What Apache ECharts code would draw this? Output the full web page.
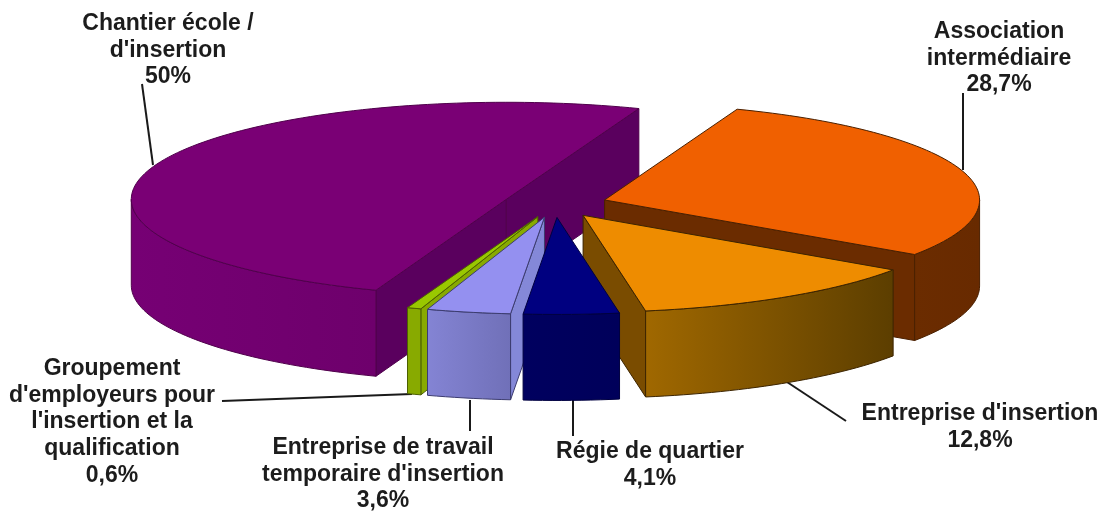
<!DOCTYPE html>
<html>
<head>
<meta charset="utf-8">
<style>
html, body { margin: 0; padding: 0; background: #fff; }
#main { width: 1104px; height: 511px; }
</style>
<script src="https://cdn.jsdelivr.net/npm/echarts@6/dist/echarts.min.js"></script>
</head>
<body>
<div id="main"></div>
<script>
// valeurs, dans le sens horaire
var categories = [
    "Association\nintermédiaire",
    "Entreprise d'insertion",
    "Régie de quartier",
    "Entreprise de travail\ntemporaire d'insertion",
    "Groupement\nd'employeurs pour\nl'insertion et la\nqualification",
    "Chantier école /\nd'insertion"
];
var shares = [28.7, 12.8, 4.1, 3.6, 0.6, 50];
var drawOrder = [5, 0, 1, 4, 3, 2]; // du fond vers l'avant

// couleurs : dessus, face coupée, flanc (dégradé)
var topColors = ['#f06000', '#ee8c00', '#000080', '#9490f0', '#99c800', '#7a0075'];
var faceColors = ['#6b2c00', '#7a4c00', '#00005f', '#8488d8', '#88aa00', '#5a005e'];
var wallLeft = ['#6b2c00', '#a06800', '#00005f', '#8484d4', '#88aa00', '#760074'];
var wallRight = ['#682a00', '#5c3e00', '#00005a', '#7070b8', '#88aa00', '#6e006c'];
var edgeColors = ['#4a2000', '#3c2400', '#000040', '#3c3c70', '#4c6000', '#50004c'];

// position des étiquettes et des traits de rappel
var labelPos = [[999, 18], [980, 400], [650, 438], [383, 434], [112, 355], [168, 10]];
var leaders = [
    [[963, 93], [963, 170]],
    [[787, 382], [846, 421]],
    [[573, 400], [573, 436]],
    [[470, 400], [470, 431]],
    [[222, 401], [412, 394]],
    [[142, 84], [153, 165]]
];

var cx = 555, cy = 204, rx = 375, ry = 97, depth = 86, explode = 52;
var firstAngle = 20.7;

var total = 0, i;
for (i = 0; i < shares.length; i++) total += shares[i];
var starts = [], ends = [], acc = firstAngle;
for (i = 0; i < shares.length; i++) {
    starts.push(acc);
    acc += shares[i] / total * 360;
    ends.push(acc);
}

function rad(a) { return a * Math.PI / 180; }
// angle compté depuis le nord, sens horaire
function rim(c, a, dy) {
    return [c[0] + rx * Math.sin(rad(a)), c[1] - ry * Math.cos(rad(a)) + (dy || 0)];
}
function arc(c, a0, a1, dy) {
    var pts = [], n = Math.max(2, Math.ceil((a1 - a0) / 1.5)), k;
    for (k = 0; k <= n; k++) pts.push(rim(c, a0 + (a1 - a0) * k / n, dy));
    return pts;
}

function poly(points, fill, stroke) {
    return {
        type: 'polygon',
        shape: { points: points },
        style: { fill: fill, stroke: stroke, lineWidth: 1, lineJoin: 'round' }
    };
}

function face(c, a, fill, stroke) {
    var r = rim(c, a);
    return poly([c, r, [r[0], r[1] + depth], [c[0], c[1] + depth]], fill, stroke);
}

function renderSlice(params, api) {
    var idx = api.value(0);
    var a0 = starts[idx], a1 = ends[idx];
    var mid = rad((a0 + a1) / 2);
    var c = [cx + explode * Math.sin(mid), cy - explode * ry / rx * Math.cos(mid)];
    var children = [];
    var stroke = edgeColors[idx];

    if (Math.sin(rad(a0)) < 0) children.push(face(c, a0, faceColors[idx], stroke));
    if (Math.sin(rad(a1)) > 0) children.push(face(c, a1, faceColors[idx], stroke));

    // flanc : seulement la partie avant de l'ellipse
    var w0 = Math.max(a0, 90), w1 = Math.min(a1, 270);
    if (w1 > w0) {
        var wall = arc(c, w0, w1, 0).concat(arc(c, w0, w1, depth).reverse());
        children.push(poly(wall, new echarts.graphic.LinearGradient(0, 0, 1, 0, [
            { offset: 0, color: wallLeft[idx] },
            { offset: 1, color: wallRight[idx] }
        ]), stroke));
    }

    children.push(poly([c].concat(arc(c, a0, a1, 0)), topColors[idx], stroke));
    return { type: 'group', children: children };
}

var labelElements = [];
categories.forEach(function (name, k) {
    labelElements.push({
        type: 'text',
        x: labelPos[k][0],
        y: labelPos[k][1],
        style: {
            text: name + '\n' + String(shares[k]).replace('.', ',') + '%',
            fill: '#1c1c1c',
            font: 'bold 23px "Liberation Sans", Arial, sans-serif',
            lineHeight: 26.8,
            align: 'center',
            verticalAlign: 'top'
        }
    });
    labelElements.push({
        type: 'polyline',
        shape: { points: leaders[k] },
        style: { stroke: '#1a1a1a', lineWidth: 2, fill: null }
    });
});

var myChart = echarts.init(document.getElementById('main'), null, { renderer: 'canvas' });
var option = {
    backgroundColor: '#fff',
    animation: false,
    series: [{
        type: 'custom',
        coordinateSystem: 'none',
        silent: true,
        data: drawOrder.map(function (k) { return [k, shares[k]]; }),
        renderItem: renderSlice
    }],
    graphic: { elements: labelElements }
};
myChart.setOption(option);
</script>
</body>
</html>
